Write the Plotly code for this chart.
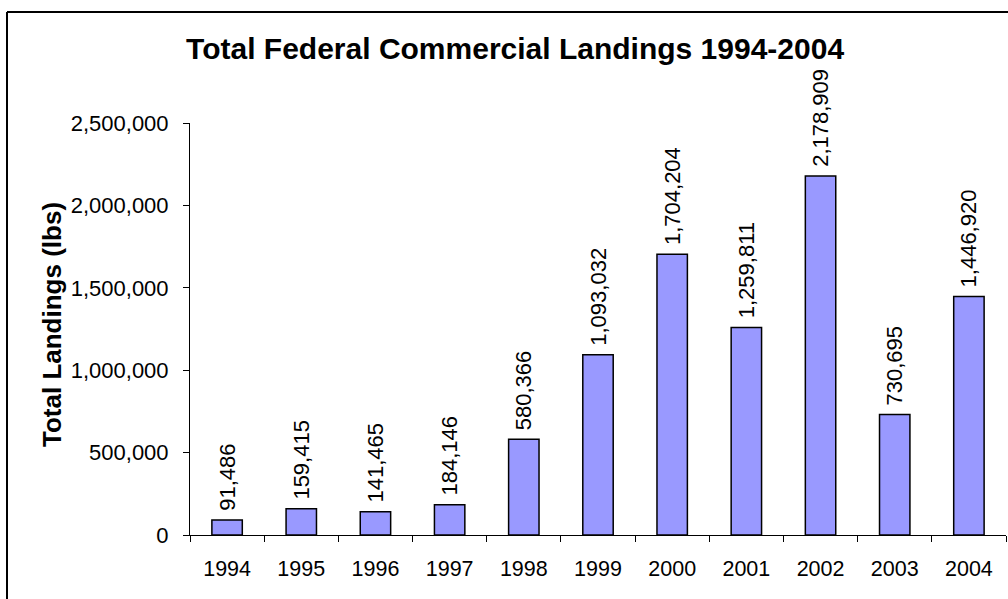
import plotly.graph_objects as go

years = ["1994", "1995", "1996", "1997", "1998", "1999", "2000", "2001", "2002", "2003", "2004"]
landings = [91486, 159415, 141465, 184146, 580366, 1093032, 1704204, 1259811, 2178909, 730695, 1446920]
y_ticks = [0, 500000, 1000000, 1500000, 2000000, 2500000]

FONT = "Liberation Sans, Arial, sans-serif"

fig = go.Figure(go.Bar(
    x=years, y=landings,
    width=0.41,
    marker=dict(color="#9999FF", line=dict(color="black", width=1.5)),
    texttemplate="\u00a0%{y:,}",
    textposition="outside",
    textangle=-90,
    constraintext="none",
    cliponaxis=False,
    textfont=dict(family=FONT, size=22, color="black"),
))

fig.update_layout(
    width=1008, height=599,
    margin=dict(l=190, r=2, t=123, b=64),
    paper_bgcolor="white", plot_bgcolor="white",
    showlegend=False,
    font=dict(family=FONT, color="black"),
    title=dict(
        text="<b>Total Federal Commercial Landings 1994-2004</b>",
        font=dict(family=FONT, size=30, color="black"),
        xref="container", x=0.511, xanchor="center",
        yref="container", y=1 - 48 / 599, yanchor="middle",
    ),
    xaxis=dict(
        type="category",
        showline=True, linecolor="black", linewidth=1,
        ticks="outside", tickson="boundaries", ticklen=6, tickcolor="black",
        tickfont=dict(family=FONT, size=21.5, color="black"),
        ticklabelstandoff=14,
        showgrid=False, zeroline=False,
    ),
    yaxis=dict(
        range=[0, 2500000],
        tickvals=y_ticks, tickformat=",",
        showline=True, linecolor="black", linewidth=1,
        ticks="outside", ticklen=6, tickcolor="black",
        tickfont=dict(family=FONT, size=22, color="black"),
        ticklabelstandoff=10,
        showgrid=False, zeroline=False,
    ),
    annotations=[
        dict(text="<b>Total Landings (lbs)</b>", textangle=-90,
             xref="paper", yref="paper", x=(52 - 190) / 816, y=(535 - 325) / 412,
             xanchor="center", yanchor="middle", showarrow=False,
             font=dict(family=FONT, size=26, color="black")),
    ],
    shapes=[
        dict(type="line", xref="paper", yref="paper",
             x0=(7 - 190) / 816, x1=1.2, y0=(535 - 12) / 412, y1=(535 - 12) / 412,
             line=dict(color="black", width=2)),
        dict(type="line", xref="paper", yref="paper",
             x0=(7 - 190) / 816, x1=(7 - 190) / 816, y0=(535 - 12) / 412, y1=-0.5,
             line=dict(color="black", width=2)),
    ],
)

fig.write_html("out.html", config={"displayModeBar": False},
               post_script="document.body.style.margin='0';")
